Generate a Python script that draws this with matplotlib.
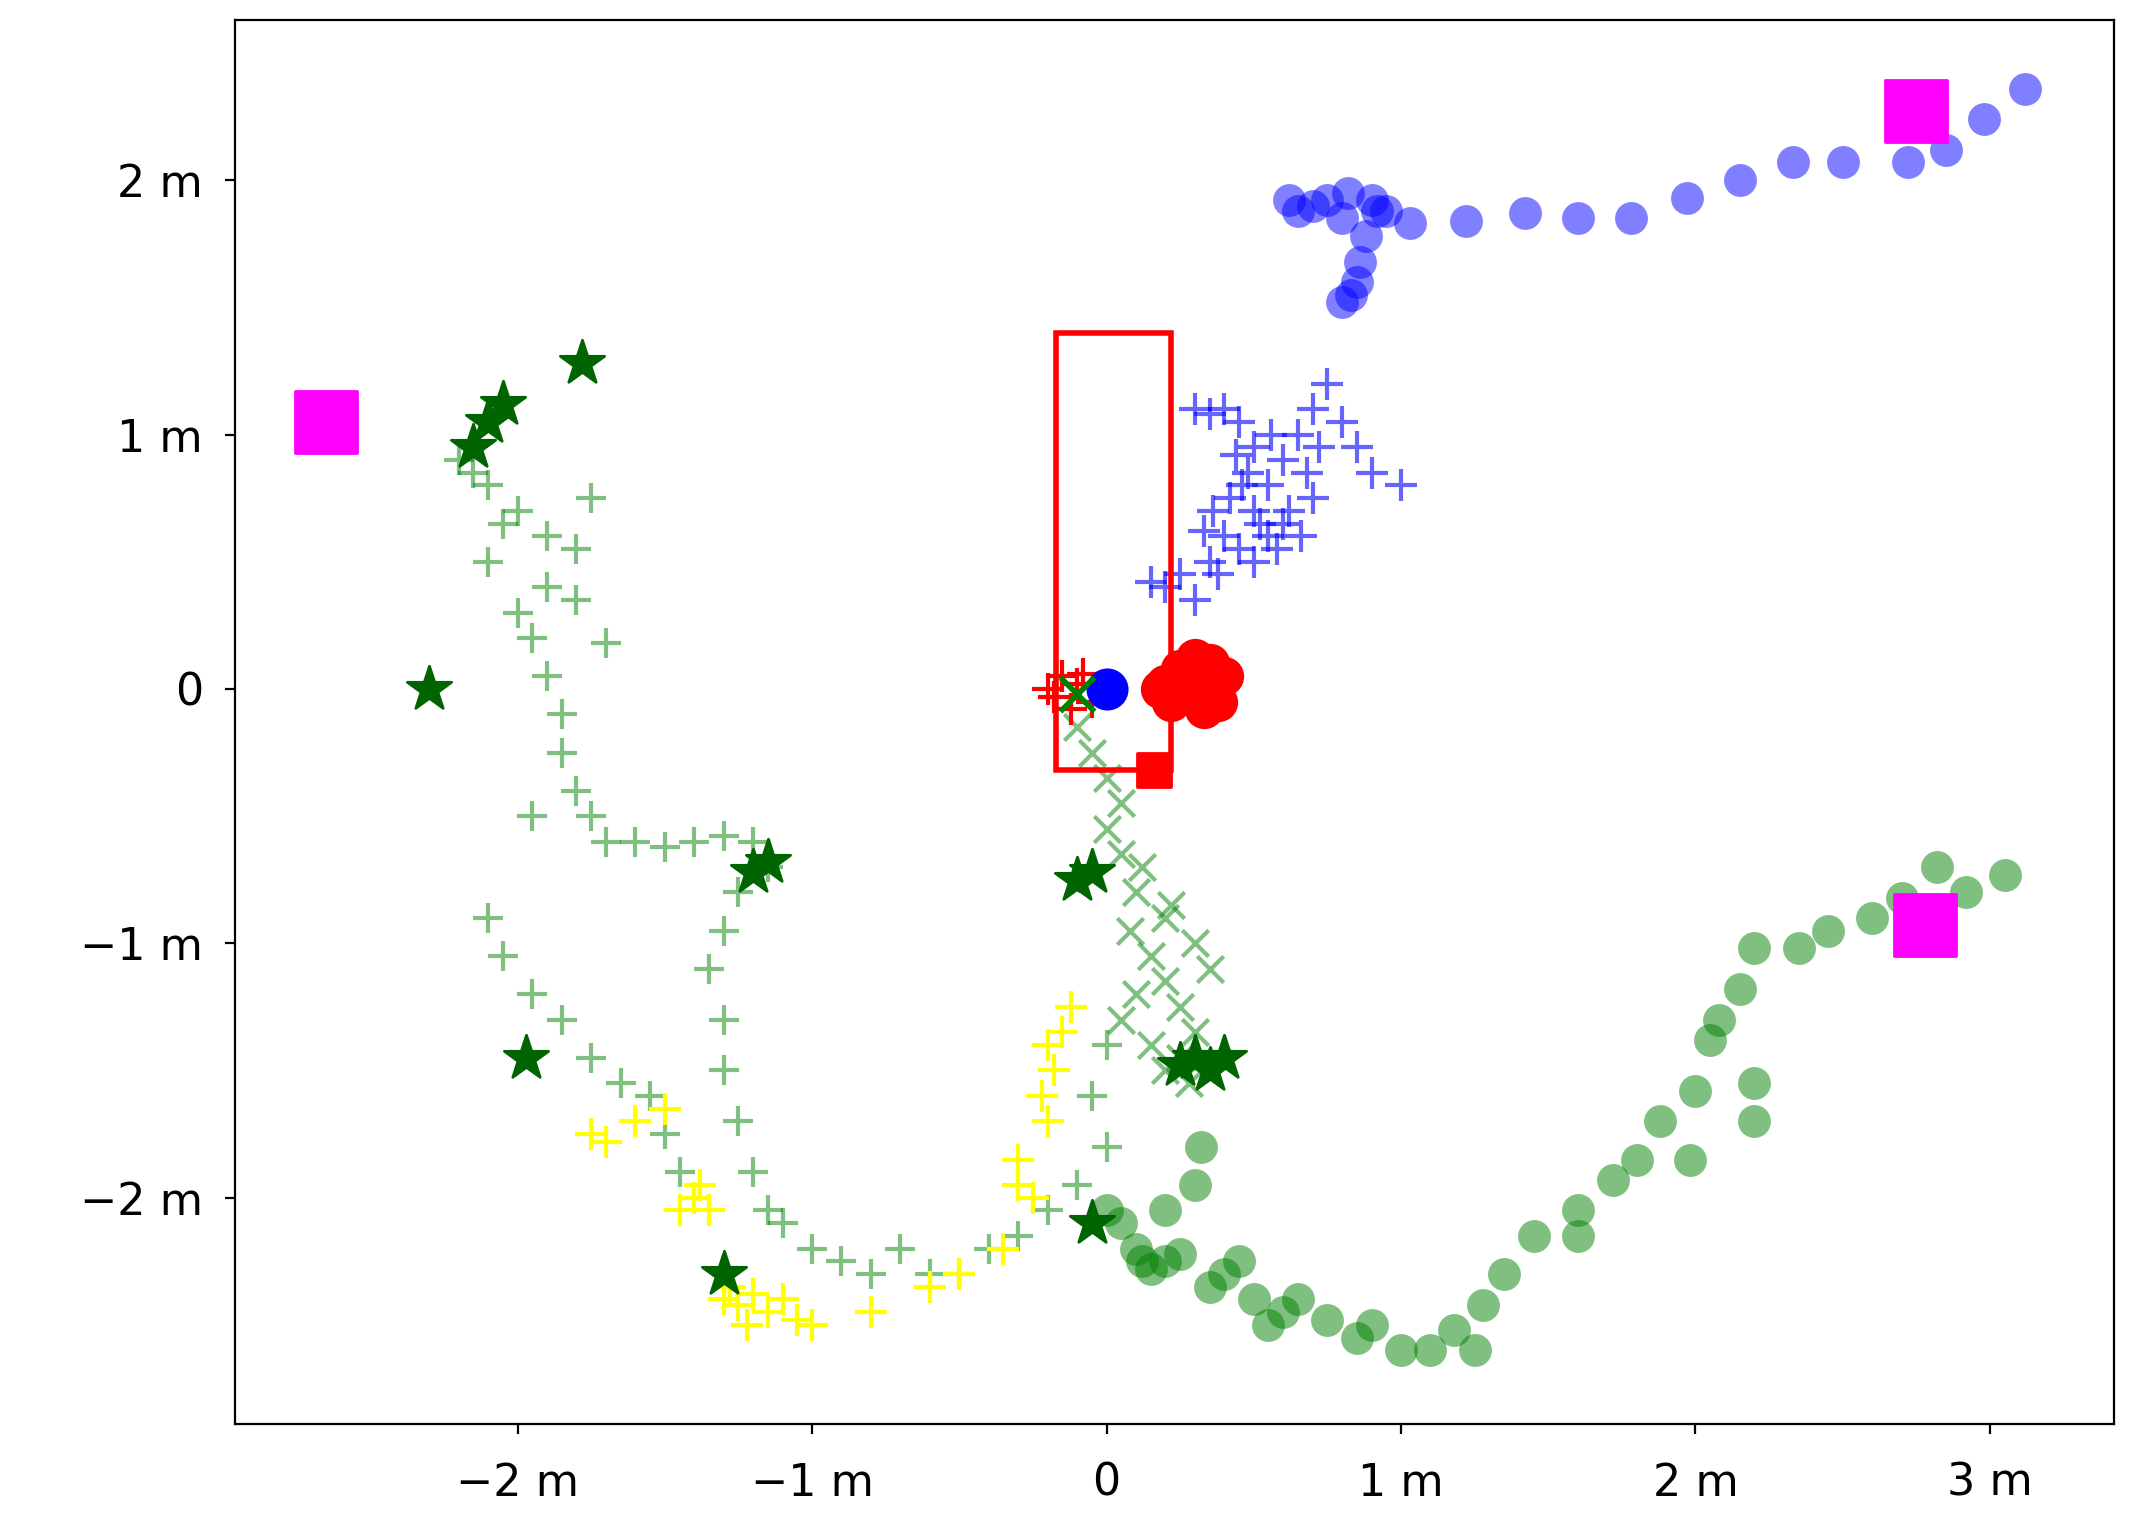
import matplotlib
matplotlib.use("Agg")
import matplotlib.pyplot as plt
from matplotlib.patches import Rectangle

# --- 数据(从图上读出的近似坐标,单位 m) ---
blue_circ_x = [3.12, 2.98, 2.85, 2.72, 2.5, 2.33, 2.15, 1.97, 1.78, 1.6, 1.42, 1.22, 1.03,
               0.92, 0.88, 0.86, 0.85, 0.83, 0.8, 0.82, 0.75, 0.7, 0.62, 0.65, 0.9, 0.95, 0.8]
blue_circ_y = [2.36, 2.24, 2.12, 2.07, 2.07, 2.07, 2.0, 1.93, 1.85, 1.85, 1.87, 1.84, 1.83,
               1.88, 1.78, 1.68, 1.6, 1.55, 1.52, 1.95, 1.92, 1.9, 1.92, 1.88, 1.92, 1.88, 1.85]

blue_plus_x = [0.15, 0.2, 0.3, 0.35, 0.4, 0.45, 0.5, 0.55, 0.6, 0.65, 0.7, 0.75, 0.8, 0.85,
               0.9, 1.0, 0.7, 0.6, 0.5, 0.45, 0.4, 0.35, 0.3, 0.5, 0.55, 0.62, 0.68, 0.42,
               0.48, 0.52, 0.58, 0.38, 0.25, 0.33, 0.44, 0.72, 0.66, 0.56, 0.46, 0.36]
blue_plus_y = [0.42, 0.4, 0.35, 0.5, 0.6, 0.55, 0.7, 0.8, 0.9, 1.0, 1.1, 1.2, 1.05, 0.95,
               0.85, 0.8, 0.75, 0.65, 0.95, 1.05, 1.1, 1.08, 1.1, 0.5, 0.6, 0.7, 0.85, 0.75,
               0.85, 0.65, 0.55, 0.45, 0.45, 0.62, 0.92, 0.95, 0.6, 1.0, 0.8, 0.7]

red_circ_x = [0.2, 0.25, 0.3, 0.35, 0.4, 0.38, 0.3, 0.22, 0.18, 0.28, 0.33, 0.36]
red_circ_y = [0.02, 0.08, 0.12, 0.1, 0.05, -0.05, -0.02, -0.05, 0.0, 0.03, -0.08, -0.02]
red_plus_x = [-0.2, -0.15, -0.1, -0.05, -0.12, -0.18, -0.08]
red_plus_y = [0.0, 0.05, 0.02, -0.05, -0.08, -0.03, 0.06]

green_circ_x = [3.05, 2.92, 2.82, 2.7, 2.6, 2.45, 2.35, 2.2, 2.15, 2.08, 2.05, 2.0, 1.88,
                1.8, 1.72, 1.6, 1.45, 1.35, 1.28, 1.18, 1.1, 1.0, 0.85, 0.75, 0.6, 0.5,
                0.35, 0.2, 0.1, 0.05, 0.2, 0.3, 0.32, 2.2, 1.98, 2.2, 1.6, 0.15, 0.25,
                0.4, 0.45, 0.65, 0.9, 1.25, 0.55, 0.0, 0.12]
green_circ_y = [-0.73, -0.8, -0.7, -0.82, -0.9, -0.95, -1.02, -1.02, -1.18, -1.3, -1.38,
                -1.58, -1.7, -1.85, -1.93, -2.05, -2.15, -2.3, -2.42, -2.52, -2.6, -2.6,
                -2.55, -2.48, -2.45, -2.4, -2.35, -2.25, -2.2, -2.1, -2.05, -1.95, -1.8,
                -1.7, -1.85, -1.55, -2.15, -2.28, -2.22, -2.3, -2.25, -2.4, -2.5, -2.6,
                -2.5, -2.05, -2.25]

green_plus_x = [-2.2, -2.1, -2.0, -1.9, -1.8, -1.75, -1.9, -1.95, -1.9, -1.85, -1.85, -1.8,
                -1.75, -1.7, -1.6, -1.5, -1.4, -1.3, -1.2, -1.15, -1.25, -1.3, -1.35, -1.3,
                -1.3, -1.25, -1.2, -1.15, -1.1, -1.0, -0.9, -0.8, -0.7, -0.6, -0.5, -0.4,
                -0.3, -0.2, -0.1, 0.0, -0.05, 0.0, -2.05, -2.15, -1.8, -1.7, -2.1, -2.0,
                -1.95, -2.1, -2.05, -1.95, -1.85, -1.75, -1.65, -1.55, -1.5, -1.45, -1.4]
green_plus_y = [0.9, 0.8, 0.7, 0.6, 0.55, 0.75, 0.4, 0.2, 0.05, -0.1, -0.25, -0.4, -0.5,
                -0.6, -0.6, -0.62, -0.6, -0.58, -0.6, -0.7, -0.8, -0.95, -1.1, -1.3,
                -1.5, -1.7, -1.9, -2.05, -2.1, -2.2, -2.25, -2.3, -2.2, -2.3, -2.3, -2.2,
                -2.15, -2.05, -1.95, -1.8, -1.6, -1.4, 0.65, 0.85, 0.35, 0.18, 0.5,
                0.3, -0.5, -0.9, -1.05, -1.2, -1.3, -1.45, -1.55, -1.6, -1.75, -1.9, -2.0]

green_x_x = [-0.1, -0.05, 0.0, 0.05, 0.0, 0.05, 0.1, 0.08, 0.15, 0.2, 0.25, 0.3, 0.25,
             0.2, 0.3, 0.35, 0.2, 0.1, 0.05, 0.15, 0.28, 0.22, 0.12]
green_x_y = [-0.15, -0.25, -0.35, -0.45, -0.55, -0.65, -0.8, -0.95, -1.05, -1.15, -1.25,
             -1.35, -1.45, -1.5, -1.0, -1.1, -0.9, -1.2, -1.3, -1.4, -1.55, -0.85, -0.7]

green_star_x = [-1.78, -2.3, -1.97, -1.3, -0.05, 0.3, 0.35, 0.25, -0.1, -0.05, -2.1,
                -2.05, -2.15, -1.15, -1.2, 0.4]
green_star_y = [1.28, 0.0, -1.45, -2.3, -2.1, -1.45, -1.5, -1.48, -0.75, -0.72, 1.05,
                1.12, 0.95, -0.68, -0.72, -1.45]

yellow_plus_x = [-1.3, -1.25, -1.2, -1.15, -1.1, -1.35, -1.4, -1.45, -1.38, -1.75, -1.7,
                 -1.6, -1.5, -0.3, -0.25, -0.3, -0.2, -0.18, -0.15, -0.22, -0.12, -0.35,
                 -0.5, -0.6, -0.8, -1.0, -1.05, -0.2, -1.28, -1.22]
yellow_plus_y = [-2.4, -2.42, -2.38, -2.45, -2.4, -2.05, -2.0, -2.05, -1.95, -1.75, -1.78,
                 -1.7, -1.65, -1.95, -2.0, -1.85, -1.7, -1.5, -1.35, -1.6, -1.25, -2.2,
                 -2.3, -2.35, -2.45, -2.5, -2.48, -1.4, -2.35, -2.5]

magenta_x = [-2.65, 2.75, 2.78]
magenta_y = [1.05, 2.27, -0.93]

rect_x0, rect_y0, rect_x1, rect_y1 = -0.17, -0.32, 0.22, 1.4


def m_fmt(v):
    if v == 0:
        return "0"
    return f"{v:.0f} m".replace("-", "\u2212")


def main() -> None:
    fig, ax = plt.subplots(figsize=(10.675, 7.64), dpi=200)
    fig.subplots_adjust(left=0.11, right=0.99, top=0.987, bottom=0.068)

    ax.scatter(blue_circ_x, blue_circ_y, s=140, c="blue", alpha=0.5, lw=0)
    ax.scatter(blue_plus_x, blue_plus_y, s=140, c="blue", marker="+", alpha=0.6)
    ax.scatter(green_circ_x, green_circ_y, s=140, c="green", alpha=0.5, lw=0)
    ax.scatter(green_plus_x, green_plus_y, s=120, c="green", marker="+", alpha=0.5)
    ax.scatter(green_x_x, green_x_y, s=90, c="green", marker="x", alpha=0.5)
    ax.scatter(yellow_plus_x, yellow_plus_y, s=140, c="yellow", marker="+")
    ax.scatter(green_star_x, green_star_y, s=280, c="darkgreen", marker="*")
    ax.scatter(red_circ_x, red_circ_y, s=200, c="red", lw=0)
    ax.scatter(red_plus_x, red_plus_y, s=140, c="red", marker="+")
    ax.scatter(magenta_x, magenta_y, s=500, c="magenta", marker="s")
    ax.scatter([0.16], [-0.32], s=150, c="red", marker="s")
    ax.scatter([0.0], [0.0], s=200, c="blue")
    ax.scatter([-0.1], [-0.02], s=150, c="green", marker="x", lw=2)
    ax.add_patch(Rectangle((rect_x0, rect_y0), rect_x1 - rect_x0, rect_y1 - rect_y0,
                           fill=False, ec="red", lw=2))

    ax.set_xlim(-2.96, 3.42)
    ax.set_ylim(-2.89, 2.63)
    ax.set_xticks([-2, -1, 0, 1, 2, 3])
    ax.set_yticks([-2, -1, 0, 1, 2])
    ax.set_xticklabels([m_fmt(v) for v in ax.get_xticks()])
    ax.set_yticklabels([m_fmt(v) for v in ax.get_yticks()])
    ax.tick_params(labelsize=16)
    ax.tick_params(axis="x", pad=10)
    ax.tick_params(axis="y", pad=8)
    fig.savefig("out.png")


if __name__ == "__main__":
    main()
